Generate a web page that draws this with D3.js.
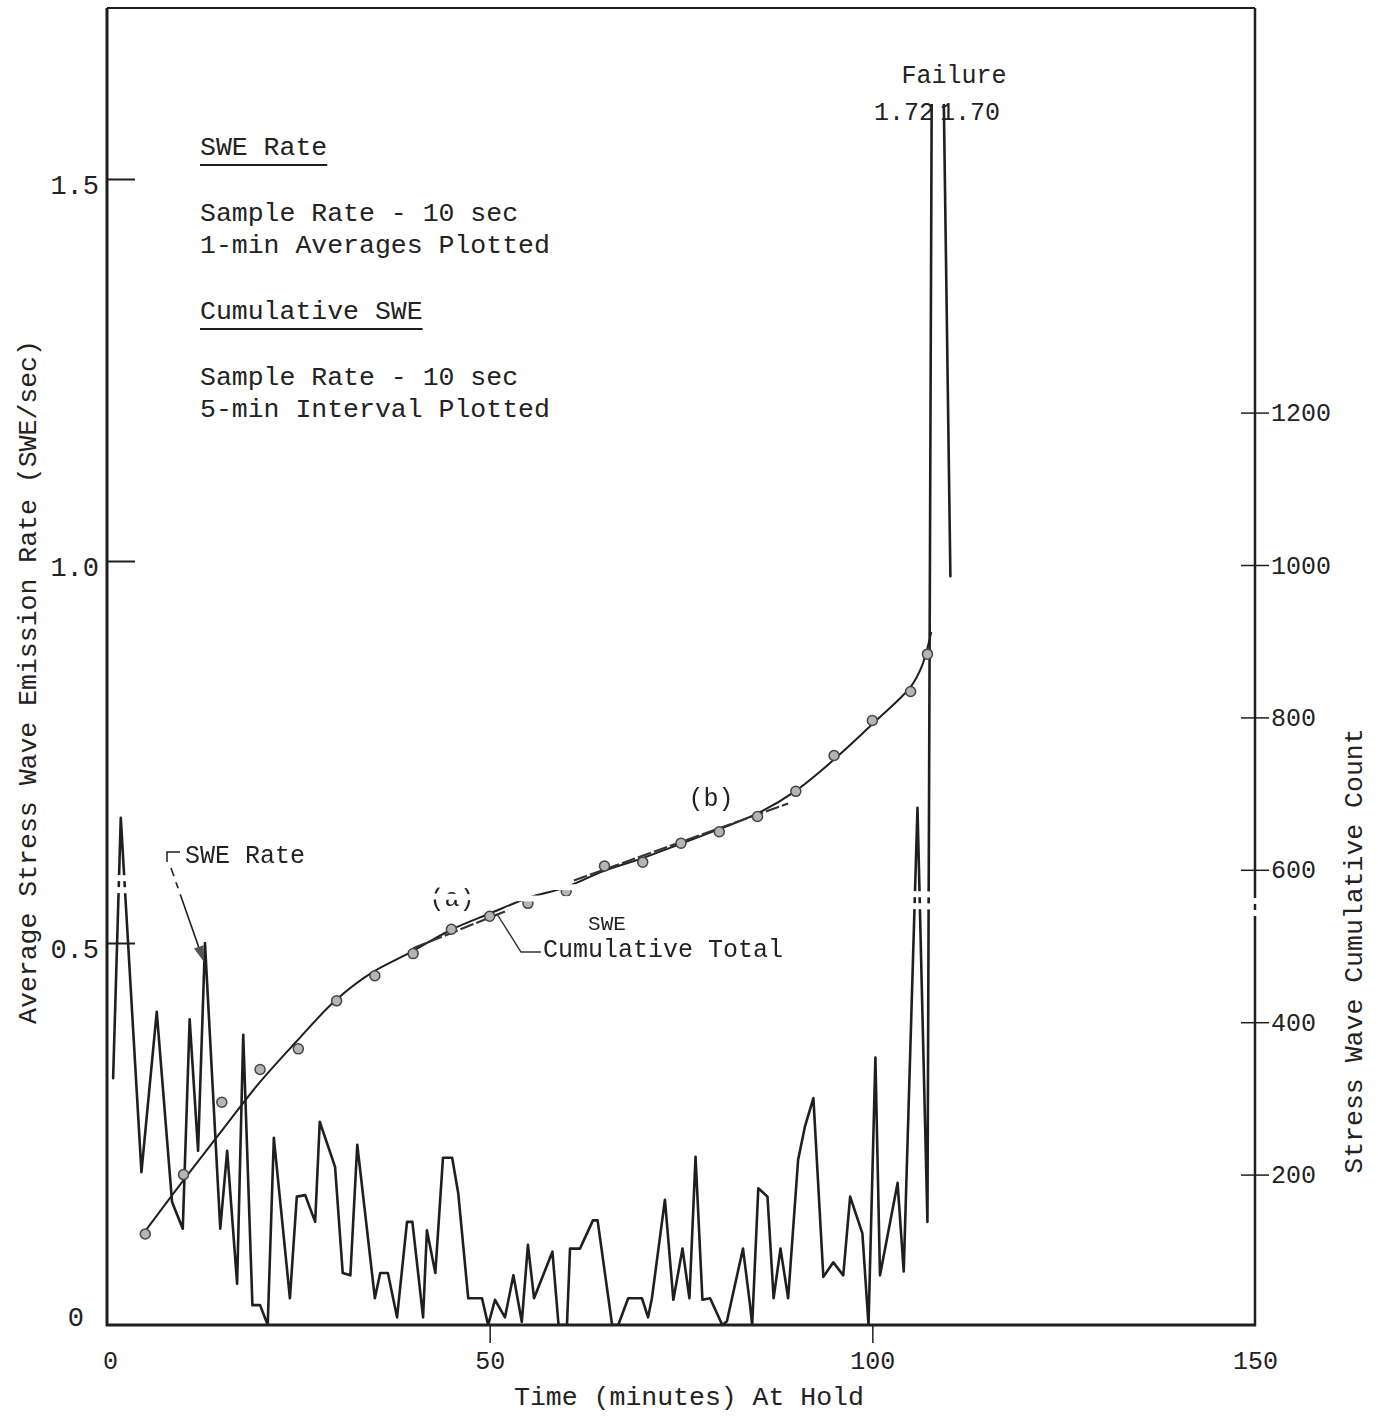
<!DOCTYPE html>
<html>
<head>
<meta charset="utf-8">
<script src="https://cdn.jsdelivr.net/npm/d3@7"></script>
<style>
  body { margin: 0; background: #fff; }
  text { font-family: "Liberation Mono", "DejaVu Sans Mono", monospace; fill: #222; }
</style>
</head>
<body>
<svg id="chart" width="1378" height="1420"></svg>
<script>
// SWE rate, 1-minute averages (minutes at hold, SWE/sec)
const rateTime = [0.8, 1.8, 4.5, 6.5, 8.5, 9.9, 10.8, 11.9, 12.8, 14.8, 15.7, 17.0, 17.8, 19.0, 20.0, 21.0,
  21.8, 23.9, 24.8, 25.9, 27.2, 27.8, 29.8, 30.8, 31.8, 32.7, 35.0, 35.7, 36.7, 37.9, 39.2, 39.9, 41.3,
  41.8, 42.9, 43.9, 45.1, 45.9, 47.2, 49.0, 49.8, 50.7, 52.0, 53.1, 54.2, 55.0, 55.8, 58.2, 59.0, 60.1,
  60.5, 61.8, 63.5, 64.1, 66.0, 66.8, 68.1, 69.9, 70.7, 71.2, 72.9, 74.0, 75.2, 76.1, 76.9, 77.8, 78.8,
  80.4, 81.0, 83.1, 84.0, 84.3, 85.1, 86.3, 87.1, 88.0, 89.0, 90.3, 91.2, 92.3, 93.6, 94.9, 96.2, 97.1,
  98.7, 99.5, 100.4, 101.0, 103.3, 104.1, 105.9, 107.2, 107.8, 109.2, 110.2];
const rateValue = [0.323, 0.664, 0.20, 0.41, 0.161, 0.126, 0.40, 0.228, 0.50, 0.126, 0.228, 0.054, 0.38, 0.026, 0.026, 0.0,
  0.245, 0.035, 0.168, 0.17, 0.135, 0.266, 0.207, 0.068, 0.065, 0.236, 0.035, 0.068, 0.068, 0.01, 0.135, 0.135, 0.01,
  0.124, 0.068, 0.219, 0.219, 0.172, 0.035, 0.035, 0.0, 0.033, 0.01, 0.065, 0.004, 0.105, 0.035, 0.096, 0.0, 0.0,
  0.10, 0.10, 0.137, 0.137, 0.0, 0.0, 0.035, 0.035, 0.01, 0.035, 0.164, 0.033, 0.10, 0.035, 0.22, 0.033, 0.035,
  0.0, 0.005, 0.10, 0.028, 0.0, 0.179, 0.168, 0.035, 0.10, 0.035, 0.216, 0.26, 0.297, 0.063, 0.082, 0.065, 0.168,
  0.12, 0.0, 0.35, 0.065, 0.186, 0.07, 0.677, 0.135, 1.72, 1.70, 0.98];

// Cumulative SWE count, 5-minute interval readings
const cumTime = [5, 10, 15, 20, 25, 30, 35, 40, 45, 50, 55, 60, 65, 70, 75, 80, 85, 90, 95, 100, 105, 107.2];
const cumCount = [122, 200, 295, 338, 365, 428, 461, 490, 522, 539, 556, 572, 605, 610, 635, 650, 670, 703, 750, 796, 834, 883];

// Smoothed cumulative curve
const fitTime = [4.7, 9.8, 14.8, 19.7, 24.6, 29.8, 34.6, 39.9, 45.1, 50.1, 55.0, 59.9, 64.8, 69.9, 75.2, 79.9,
  85.0, 89.9, 94.8, 100.3, 105.0, 106.5, 107.7];
const fitCount = [122, 190, 255, 318, 373, 428, 465, 493, 522, 543, 563, 577, 598, 615, 635, 653,
  674, 703, 743, 794, 840, 868, 912];

// Straight-line segments (a) and (b)
const segATime = [40.0, 52.4];
const segACount = [497, 547];
const segBTime = [61.0, 89.0];
const segBCount = [586, 687];

const xTicks = [0, 50, 100, 150];
const leftTicks = [0, 0.5, 1.0, 1.5];
const rightTicks = [200, 400, 600, 800, 1000, 1200];

const svg = d3.select("#chart");
const ink = "#1f1f1f";

const x = d3.scaleLinear().domain([0, 150]).range([107, 1255]);
const yL = d3.scaleLinear().domain([0, 1.5]).range([1325, 179]);
const yR = d3.scaleLinear().domain([0, 1500]).range([1327, 184]);

// Paper tear band: two thin stripes that interrupt the traced lines
const bandC = px => 884 + (px - 118) * 0.0202;
const defs = svg.append("defs");
const mask = defs.append("mask").attr("id", "tear").attr("maskUnits", "userSpaceOnUse")
  .attr("x", 0).attr("y", 0).attr("width", 1378).attr("height", 1420);
mask.append("rect").attr("width", 1378).attr("height", 1420).attr("fill", "#fff");
[[-9, -3], [3, 9]].forEach(([a, b]) => {
  const x0 = 100, x1 = 1270;
  mask.append("polygon").attr("fill", "#000").attr("points",
    `${x0},${bandC(x0) + a} ${x1},${bandC(x1) + a} ${x1},${bandC(x1) + b} ${x0},${bandC(x0) + b}`);
});
// Off-scale spike is cut just below the failure labels
defs.append("clipPath").attr("id", "plotclip").append("rect")
  .attr("x", 107).attr("y", 104).attr("width", 1148).attr("height", 1221);

// Frame
const frame = svg.append("g").attr("stroke", ink).attr("fill", "none");
frame.append("line").attr("x1", 107).attr("y1", 8).attr("x2", 1255).attr("y2", 8).attr("stroke-width", 2);
frame.append("line").attr("x1", 107).attr("y1", 8).attr("x2", 107).attr("y2", 1326).attr("stroke-width", 3);
frame.append("line").attr("x1", 106).attr("y1", 1325).attr("x2", 1256).attr("y2", 1325).attr("stroke-width", 3);

// Bottom axis
const gx = svg.append("g").attr("transform", "translate(0,1325)")
  .call(d3.axisBottom(x).tickValues(xTicks).tickSize(18).tickPadding(8).tickFormat(d3.format("d")));
gx.select(".domain").remove();
gx.selectAll(".tick line").attr("stroke", ink).attr("stroke-width", 1.5)
  .attr("display", d => (d === 0 || d === 150) ? "none" : null);
gx.selectAll(".tick text").attr("font-size", 25).attr("fill", ink)
  .attr("dx", d => d === 0 ? 3 : 0);

// Left axis (ticks point inward)
const gl = svg.append("g").attr("transform", "translate(107,0)")
  .call(d3.axisLeft(yL).tickValues(leftTicks).tickSize(-28).tickPadding(8)
    .tickFormat(d => d === 0 ? "0" : d.toFixed(1)));
gl.select(".domain").remove();
gl.selectAll(".tick line").attr("stroke", ink).attr("stroke-width", 2)
  .attr("display", d => d === 0 ? "none" : null);
gl.selectAll(".tick text").attr("font-size", 27).attr("fill", ink)
  .attr("dy", d => d === 0 ? "0.0em" : "0.55em")
  .attr("x", d => d === 0 ? -23 : -8);

// Right axis (count), with crossing ticks
const gr = svg.append("g").attr("mask", "url(#tear)");
gr.append("line").attr("x1", 1255).attr("y1", 8).attr("x2", 1255).attr("y2", 1326)
  .attr("stroke", ink).attr("stroke-width", 2.5);
const ra = svg.append("g").attr("transform", "translate(1255,0)")
  .call(d3.axisRight(yR).tickValues(rightTicks).tickSize(14).tickPadding(2).tickFormat(d3.format("d")));
ra.select(".domain").remove();
ra.selectAll(".tick line").attr("x1", -14).attr("stroke", ink).attr("stroke-width", 1.5);
ra.selectAll(".tick text").attr("font-size", 25).attr("fill", "#333");

// Axis titles
svg.append("text").attr("transform", "translate(27,682) rotate(-90)")
  .attr("text-anchor", "middle").attr("dy", "0.35em").attr("font-size", 26.5)
  .text("Average Stress Wave Emission Rate (SWE/sec)");
svg.append("text").attr("transform", "translate(1353,951) rotate(-90)")
  .attr("text-anchor", "middle").attr("dy", "0.35em").attr("font-size", 26.5).attr("fill", "#333")
  .text("Stress Wave Cumulative Count");
svg.append("text").attr("x", 689).attr("y", 1405).attr("text-anchor", "middle").attr("font-size", 26.5)
  .text("Time (minutes) At Hold");

// Plotted data
const plot = svg.append("g").attr("mask", "url(#tear)");
const inner = plot.append("g").attr("clip-path", "url(#plotclip)");

const rateData = rateTime.map((t, i) => ({ t, v: rateValue[i] }));
inner.append("path").datum(rateData)
  .attr("fill", "none").attr("stroke", ink).attr("stroke-width", 2.6)
  .attr("stroke-linejoin", "round").attr("stroke-linecap", "round")
  .attr("d", d3.line().x(d => x(d.t)).y(d => yL(d.v)));

const fitData = fitTime.map((t, i) => ({ t, c: fitCount[i] }));
inner.append("path").datum(fitData)
  .attr("fill", "none").attr("stroke", ink).attr("stroke-width", 2)
  .attr("d", d3.line().x(d => x(d.t)).y(d => yR(d.c)).curve(d3.curveCatmullRom.alpha(0.5)));

[[segATime, segACount], [segBTime, segBCount]].forEach(([ts, cs]) => {
  inner.append("path").datum(ts.map((t, i) => ({ t, c: cs[i] })))
    .attr("fill", "none").attr("stroke", "#333").attr("stroke-width", 2.2)
    .attr("stroke-dasharray", "14 3")
    .attr("d", d3.line().x(d => x(d.t)).y(d => yR(d.c)));
});

inner.selectAll("circle.cum").data(cumTime.map((t, i) => ({ t, c: cumCount[i] })))
  .join("circle").attr("class", "cum")
  .attr("cx", d => x(d.t)).attr("cy", d => yR(d.c)).attr("r", 5)
  .attr("fill", "#b5b5b5").attr("stroke", "#444").attr("stroke-width", 1.5);

// Legend notes
const notes = [
  { s: "SWE Rate", y: 155, u: true },
  { s: "Sample Rate - 10 sec", y: 221 },
  { s: "1-min Averages Plotted", y: 253 },
  { s: "Cumulative SWE", y: 319, u: true },
  { s: "Sample Rate - 10 sec", y: 385 },
  { s: "5-min Interval Plotted", y: 417 }
];
notes.forEach(n => {
  const t = svg.append("text").attr("x", 200).attr("y", n.y).attr("font-size", 26.5).text(n.s);
  if (n.u) {
    const w = t.node().getComputedTextLength();
    svg.append("line").attr("x1", 200).attr("x2", 200 + w).attr("y1", n.y + 10).attr("y2", n.y + 10)
      .attr("stroke", ink).attr("stroke-width", 2);
  }
});

// Failure labels
svg.append("text").attr("x", 954).attr("y", 83).attr("text-anchor", "middle").attr("font-size", 25).text("Failure");
svg.append("text").attr("x", 934).attr("y", 120).attr("text-anchor", "end").attr("font-size", 25).text("1.72");
svg.append("text").attr("x", 940).attr("y", 120).attr("font-size", 25).text("1.70");

// Callouts
const ann = plot.append("g");
ann.append("text").attr("x", 185).attr("y", 863).attr("font-size", 25).text("SWE Rate");
ann.append("path").attr("d", "M180,852 L167,852 L167,862").attr("fill", "none").attr("stroke", ink).attr("stroke-width", 1.5);
const tip = [204, 962], from = [171, 868];
const len = Math.hypot(tip[0] - from[0], tip[1] - from[1]);
const ux = (tip[0] - from[0]) / len, uy = (tip[1] - from[1]) / len;
const bx = tip[0] - 16 * ux, by = tip[1] - 16 * uy;
ann.append("line").attr("x1", from[0]).attr("y1", from[1]).attr("x2", bx).attr("y2", by)
  .attr("stroke", ink).attr("stroke-width", 1.6);
ann.append("polygon").attr("fill", "#555")
  .attr("points", `${tip[0]},${tip[1]} ${bx - 5 * uy},${by + 5 * ux} ${bx + 5 * uy},${by - 5 * ux}`);

ann.append("text").attr("x", 711).attr("y", 806).attr("text-anchor", "middle").attr("font-size", 25).text("(b)");
ann.append("text").attr("x", 452).attr("y", 906).attr("text-anchor", "middle").attr("font-size", 25).text("(a)");

ann.append("text").attr("x", 607).attr("y", 930).attr("text-anchor", "middle").attr("font-size", 21).attr("fill", "#333").text("SWE");
ann.append("text").attr("x", 543).attr("y", 957).attr("font-size", 25).attr("fill", "#333").text("Cumulative Total");
ann.append("path").attr("d", "M497,914 L521,952 L541,952").attr("fill", "none").attr("stroke", "#333").attr("stroke-width", 1.4);
</script>
</body>
</html>
